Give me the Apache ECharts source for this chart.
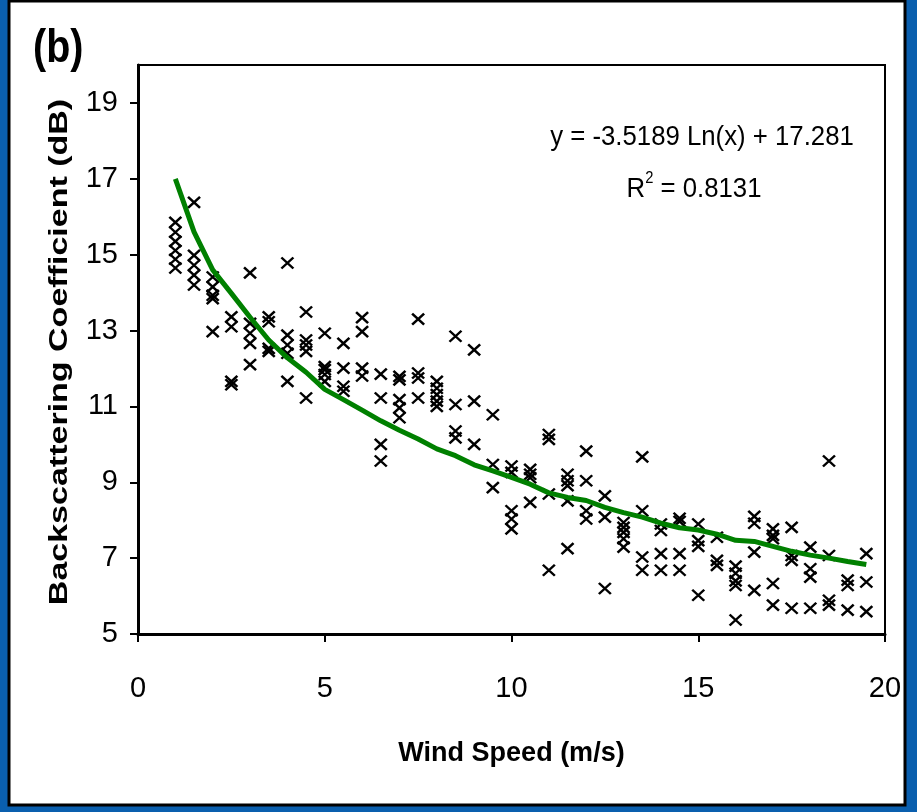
<!DOCTYPE html>
<html>
<head>
<meta charset="utf-8">
<script src="https://cdn.jsdelivr.net/npm/echarts@6/dist/echarts.min.js"></script>
<style>
html,body{margin:0;padding:0;background:#fff;}
#chart{width:917px;height:812px;}
</style>
</head>
<body>
<div id="chart"></div>
<script>
// ---- data ----
const windSpeed = [1,1.5,2,2.5,3,3.5,4,4.5,5,5.5,6,6.5,7,7.5,8,8.5,9,9.5,10,10.5,11,11.5,12,12.5,13,13.5,14,14.5,15,15.5,16,16.5,17,17.5,18,18.5,19,19.5];
const backscatterByWind = [
  [15.85,15.59,15.35,15.11,14.88,14.65],
  [16.38,14.98,14.72,14.46,14.2],
  [14.41,14.15,13.93,13.84,12.97],
  [13.36,13.1,11.66,11.57],
  [14.52,13.19,12.93,12.66,12.1],
  [13.36,13.23,12.53,12.45],
  [14.78,12.88,12.62,12.4,11.66],
  [13.49,12.75,12.62,12.45,11.22],
  [12.93,12.05,11.97,11.84,11.66],
  [12.66,12.01,11.53,11.4],
  [13.34,12.97,12.01,11.8],
  [11.85,11.22,10.0,9.56],
  [11.79,11.7,11.18,10.96,10.7],
  [13.3,11.88,11.75,11.22],
  [11.66,11.48,11.31,11.14,11.0],
  [12.85,11.05,10.35,10.17],
  [12.49,11.14,10.0],
  [10.78,9.47,8.86],
  [9.43,9.26,8.25,8.03,7.77],
  [9.34,9.21,9.12,8.47],
  [10.26,10.13,8.69,6.68],
  [9.21,9.04,8.91,8.51,7.25],
  [9.82,9.04,8.25,8.03],
  [8.64,8.08,6.2],
  [7.94,7.81,7.68,7.51,7.29],
  [9.67,8.25,7.03,6.68],
  [7.9,7.73,7.12,6.68],
  [8.05,7.97,7.12,6.68],
  [7.9,7.46,7.31,6.02],
  [7.55,6.94,6.81],
  [6.79,6.6,6.4,6.28,5.37],
  [8.1,7.92,7.16,6.15],
  [7.77,7.6,7.51,6.33,5.76],
  [7.81,7.07,6.94,5.68],
  [7.29,6.72,6.5,5.68],
  [9.56,7.07,5.89,5.76],
  [6.42,6.28,5.63],
  [7.12,6.37,5.59]
];
const trendValues = [17.0,15.6,14.6,13.98,13.35,12.75,12.28,11.9,11.45,11.18,10.9,10.62,10.37,10.14,9.88,9.7,9.46,9.3,9.13,8.95,8.72,8.6,8.52,8.34,8.2,8.08,7.92,7.8,7.74,7.63,7.47,7.44,7.31,7.18,7.08,7.0,6.91,6.83];
const yTickValues = [5,7,9,11,13,15,17,19];
const xTickInterval = 5;
const panelLabel = '(b)';
const xTitle = 'Wind Speed (m/s)';
const yTitle = 'Backscattering Coefficient (dB)';
const equationText = 'y = -3.5189 Ln(x) + 17.281';
const r2Text = '0.8131';

// ---- build series data ----
const scatterData = [];
windSpeed.forEach((w, i) => backscatterByWind[i].forEach(v => scatterData.push([w, v])));
const trendData = windSpeed.map((w, i) => [w, trendValues[i]]);

const SANS = "'Liberation Sans', Arial, sans-serif";

const chart = echarts.init(document.getElementById('chart'));
chart.setOption({
  backgroundColor: '#0a5fae',
  animation: false,
  graphic: [
    { type: 'rect', z: -10, silent: true,
      shape: { x: 9, y: 1, width: 896, height: 804 },
      style: { fill: '#ffffff', stroke: '#000', lineWidth: 3 } },
    { type: 'text', x: 33, y: 26, scaleX: 0.84,
      style: { text: panelLabel, font: "bold 47px " + SANS, fill: '#000', align: 'left', verticalAlign: 'top' } },
    { type: 'text', x: 60, y: 352, rotation: Math.PI / 2, scaleY: 0.78,
      style: { text: yTitle, font: "bold 34px " + SANS, fill: '#000', align: 'center', verticalAlign: 'middle' } },
    { type: 'text', x: 702, y: 137, scaleX: 0.92,
      style: { text: equationText, font: "28px " + SANS, fill: '#000', align: 'center', verticalAlign: 'middle' } },
    { type: 'text', x: 694, y: 187, scaleX: 0.92,
      style: { text: '{a|R}{s|2}{a| = ' + r2Text + '}', align: 'center', verticalAlign: 'middle',
        rich: { a: { fontFamily: SANS, fontSize: 28, color: '#000', verticalAlign: 'bottom', lineHeight: 32 },
                s: { fontFamily: SANS, fontSize: 16, color: '#000', verticalAlign: 'top', lineHeight: 32 } } } }
  ],
  grid: { left: 138, right: 32, top: 65, bottom: 178, show: true, borderColor: '#000', borderWidth: 2, backgroundColor: '#fff' },
  xAxis: {
    type: 'value', min: 0, max: 20, interval: xTickInterval,
    name: xTitle, nameLocation: 'middle', nameGap: 106,
    nameTextStyle: { fontFamily: SANS, fontWeight: 'bold', fontSize: 27, color: '#000' },
    axisLine: { show: true, onZero: false, lineStyle: { color: '#000', width: 3 } },
    axisTick: { show: true, length: 8, lineStyle: { color: '#000', width: 2 } },
    axisLabel: { margin: 40, fontFamily: SANS, fontSize: 29, color: '#000', showMaxLabel: true, showMinLabel: true },
    splitLine: { show: false }
  },
  yAxis: {
    type: 'value', min: 5, max: 20,
    axisLine: { show: true, onZero: false, lineStyle: { color: '#000', width: 3 } },
    axisTick: { show: true, length: 8, lineStyle: { color: '#000', width: 2 }, customValues: yTickValues },
    axisLabel: { margin: 20, fontFamily: SANS, fontSize: 29, color: '#000', customValues: yTickValues },
    splitLine: { show: false }
  },
  series: [
    { type: 'scatter', data: scatterData, z: 2,
      symbol: 'path://M0,0L12,10M12,0L0,10', symbolSize: [12, 11],
      itemStyle: { color: 'rgba(0,0,0,0)', borderColor: '#000', borderWidth: 2.4, opacity: 1 } },
    { type: 'line', data: trendData, z: 3, symbol: 'none', smooth: false,
      lineStyle: { color: '#008000', width: 5 } }
  ]
});
</script>
</body>
</html>
